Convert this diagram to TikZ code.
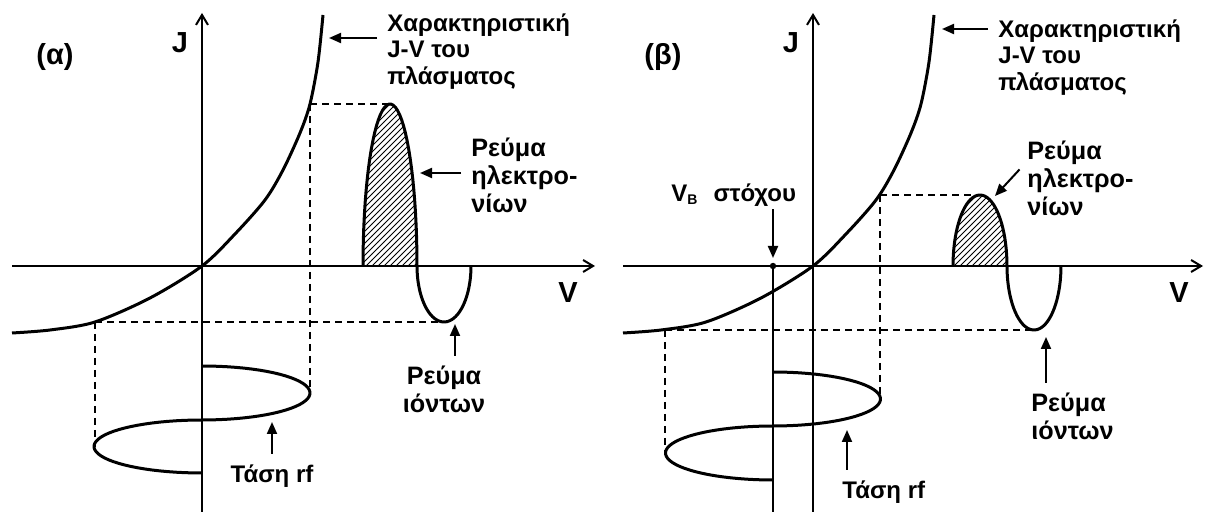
\documentclass[tikz,border=0pt]{standalone}
\usepackage{fontspec}
\setmainfont{Liberation Sans}
\usetikzlibrary{arrows.meta,patterns}

\begin{document}
\begin{tikzpicture}[
  x=0.5pt, y=-0.5pt,
  axis/.style={line width=1pt,-{Straight Barb[length=5pt,width=6pt]}},
  wave/.style={line width=1.5pt},
  guide/.style={line width=0.65pt,dash pattern=on 3.5pt off 2.5pt},
  lbl/.style={line width=1pt,shorten <=4pt,-{Triangle[length=6pt,width=5pt]}},
  txt/.style={font=\fontsize{12}{13.3}\selectfont\bfseries,align=left,inner sep=1pt},
  cur/.style={font=\fontsize{12.6}{13.8}\selectfont\bfseries,align=left,inner sep=1pt},
  big/.style={font=\fontsize{14.5}{16}\selectfont\bfseries,inner sep=0pt},
  pics/jvcurve/.style={code={
    \draw[wave] plot[smooth] coordinates {(12,333) (50,330) (95,322) (150,298) (202,266)
      (235,234) (265,200) (283,170) (300,133) (310,104) (318,62) (323,15)};
  }}
]
  \useasboundingbox (0,0) rectangle (1206,512);

  % (a) panel
  \draw[axis] (12,266) -- (595,266);
  \draw[axis] (202,512) -- (202,13);
  \pic at (0,0) {jvcurve};
  \draw[guide] (95,322) -- (444,322);
  \draw[guide] (95,322) -- (95,447);
  \draw[guide] (310,104) -- (390,104);
  \draw[guide] (310,104) -- (310,393);
  \fill[pattern=north east lines] plot[domain=180:0,samples=40] ({390+27*cos(\x)},{266-162*sin(\x)}) -- cycle;
  \draw[wave] plot[domain=180:0,samples=40] ({390+27*cos(\x)},{266-162*sin(\x)})
    -- plot[domain=180:360,samples=40] ({444+27*cos(\x)},{266-56*sin(\x)});
  \draw[wave] plot[domain=0:180,samples=40] ({202+108*sin(\x)},{393-27*cos(\x)})
    -- plot[domain=0:180,samples=40] ({202-108*sin(\x)},{446.5-26.5*cos(\x)});

  \node[big] (tagA) at (55,57) {(α)};
  \node[big] (jA) at (180,43) {J};
  \node[big] (vA) at (568,293) {V};
  \node[txt,anchor=north west] (jvA) at (385,11) {Χαρακτηριστική\\J-V του\\πλάσματος};
  \node[cur,anchor=north west] (elA) at (469,136) {Ρεύμα\\ηλεκτρο-\\νίων};
  \node[cur,align=center,anchor=north] (ionA) at (444,364) {Ρεύμα\\ιόντων};
  \node[txt,anchor=north] (rfA) at (272,462) {Τάση rf};
  \coordinate (jvTipA) at (329,38);
  \coordinate (elTipA) at (420,173);
  \coordinate (ionTipA) at (455,324);
  \coordinate (rfTipA) at (272,422);
  \draw[lbl] (jvA.west |- jvTipA) -- (jvTipA);
  \draw[lbl] (elA.west |- elTipA) -- (elTipA);
  \draw[lbl] (ionA.north -| ionTipA) -- (ionTipA);
  \draw[lbl] (rfA.north) -- (rfTipA);

  % (b) panel
  \draw[axis] (623,266) -- (1203,266);
  \draw[axis] (813,512) -- (813,13);
  \pic at (611,0) {jvcurve};
  \draw[line width=1pt] (773,266) -- (773,512);
  \coordinate (vbDot) at (773,266);
  \fill (vbDot) circle (1.6pt);
  \draw[guide] (665,330) -- (1034,330);
  \draw[guide] (665,330) -- (665,453);
  \draw[guide] (880,195) -- (980,195);
  \draw[guide] (880,195) -- (880,399);
  \fill[pattern=north east lines] plot[domain=180:0,samples=40] ({980+27*cos(\x)},{266-71*sin(\x)}) -- cycle;
  \draw[wave] plot[domain=180:0,samples=40] ({980+27*cos(\x)},{266-71*sin(\x)})
    -- plot[domain=180:360,samples=40] ({1034+27*cos(\x)},{266-64*sin(\x)});
  \draw[wave] plot[domain=0:180,samples=40] ({773+107.5*sin(\x)},{399-27*cos(\x)})
    -- plot[domain=0:180,samples=40] ({773-107.5*sin(\x)},{453-27*cos(\x)});

  \node[big] (tagB) at (663,57) {(β)};
  \node[big] (jB) at (791,43) {J};
  \node[big] (vB) at (1179,293) {V};
  \node[txt,anchor=north west] (jvB) at (996,17) {Χαρακτηριστική\\J-V του\\πλάσματος};
  \node[cur,anchor=north west] (elB) at (1025,139) {Ρεύμα\\ηλεκτρο-\\νίων};
  \node[txt,anchor=base west] (vbB) at (669,202) {V\raisebox{-1.5pt}{\fontsize{7}{8}\selectfont B}\hspace{8pt}στόχου};
  \node[cur,anchor=north west] (ionB) at (1029,391) {Ρεύμα\\ιόντων};
  \node[txt,anchor=north west] (rfB) at (840,478) {Τάση rf};
  \coordinate (jvTipB) at (942,29);
  \coordinate (elTipB) at (995,196);
  \coordinate (ionTipB) at (1046,337);
  \coordinate (rfTipB) at (847,430);
  \draw[lbl] (jvB.west |- jvTipB) -- (jvTipB);
  \draw[lbl] (elB.165) -- (elTipB);
  \draw[lbl,shorten <=0pt,shorten >=4pt] (vbB.south -| vbDot) -- (vbDot);
  \draw[lbl] (ionB.north -| ionTipB) -- (ionTipB);
  \draw[lbl] (rfB.north -| rfTipB) -- (rfTipB);
\end{tikzpicture}
\end{document}
